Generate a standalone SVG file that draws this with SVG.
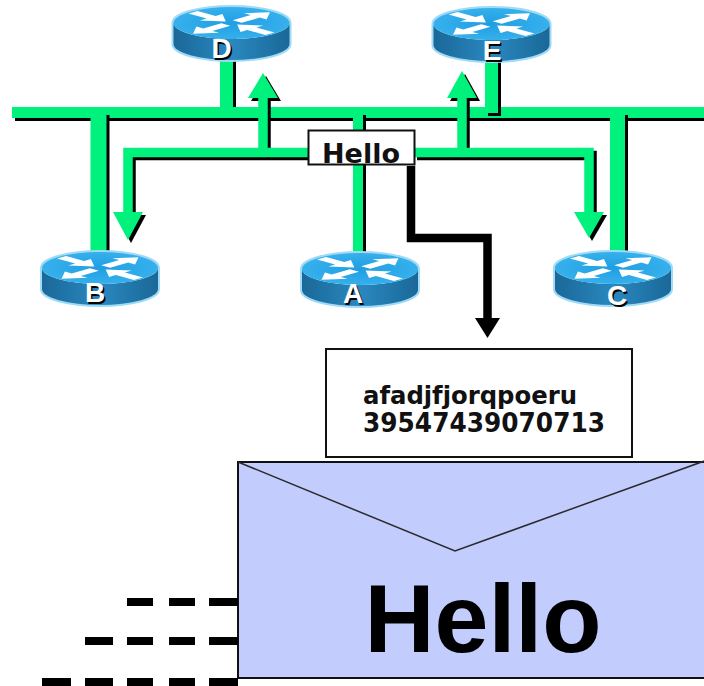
<svg xmlns="http://www.w3.org/2000/svg" xmlns:xlink="http://www.w3.org/1999/xlink" width="704" height="686" viewBox="0 0 704 686">
  <style>
    .sh { color: #000000; }
    .gr { color: #00F27C; }
    .wire { fill: none; stroke: currentColor; }
    .head { fill: currentColor; stroke: none; }
    .rlabel { font-family: "Liberation Sans", Arial, sans-serif; font-weight: bold; font-size: 28px; text-anchor: middle; }
    .rlabel-sh { fill: #000000; }
    .rlabel-fg { fill: #ffffff; }
    .tag { font-family: "DejaVu Sans", Verdana, sans-serif; font-weight: bold; fill: #111111; }
  </style>
  <defs>
    <linearGradient id="sideGrad" x1="0" y1="0" x2="1" y2="0">
      <stop offset="0" stop-color="#1a6898"/>
      <stop offset="0.5" stop-color="#2a88bf"/>
      <stop offset="1" stop-color="#1a6898"/>
    </linearGradient>
    <radialGradient id="topGrad" cx="0.5" cy="0.5" r="0.6">
      <stop offset="0" stop-color="#1f9ee2"/>
      <stop offset="1" stop-color="#3bb4ef"/>
    </radialGradient>
    <!-- arrow pointing away from the centre of the router top -->
    <polygon id="arrOut" points="5,-4 21,-4 21,-10 34,0 21,10 21,4 5,4"/>
    <!-- arrow pointing toward the centre -->
    <polygon id="arrIn" points="34,-4 18,-4 18,-10 5,0 18,10 18,4 34,4"/>
    <!-- router icon: origin at the centre of the top face -->
    <g id="router">
      <path d="M-58 0 A58 16 0 0 1 58 0 V21 A58 16 0 0 1 -58 21 Z" fill="none" stroke="#9fdaf7" stroke-width="4"/>
      <path d="M-58 0 A58 16 0 0 0 58 0 V21 A58 16 0 0 1 -58 21 Z" fill="url(#sideGrad)"/>
      <ellipse cx="0" cy="0" rx="58" ry="16" fill="url(#topGrad)"/>
      <g fill="#ffffff" transform="scale(1.6 0.45)">
        <use xlink:href="#arrIn" href="#arrIn" transform="rotate(-135)"/>
        <use xlink:href="#arrIn" href="#arrIn" transform="rotate(45)"/>
        <use xlink:href="#arrOut" href="#arrOut" transform="rotate(-45)"/>
        <use xlink:href="#arrOut" href="#arrOut" transform="rotate(135)"/>
      </g>
    </g>
    <!-- wires and flows, drawn twice: black offset shadow, then green -->
    <path id="wDropD" class="wire" d="M226.5 30 V112" stroke-width="13"/>
    <path id="wBus" class="wire" d="M12 112.5 H720" stroke-width="11"/>
    <path id="wDropB" class="wire" d="M98.5 112 V256" stroke-width="16"/>
    <path id="wDropA" class="wire" d="M358 112 V258" stroke-width="10"/>
    <path id="wDropC" class="wire" d="M617.5 112 V256" stroke-width="15"/>
    <path id="wDropE" class="wire" d="M491.5 30 V113" stroke-width="13"/>
    <g id="flowLeft">
      <path class="wire" d="M309 152.5 H128 V214" stroke-width="9.5"/>
      <path class="wire" d="M263 152.5 V96" stroke-width="9.5"/>
      <polygon class="head" points="113,212 143,212 128,240"/>
      <polygon class="head" points="248,98 278,98 263,73"/>
    </g>
    <g id="flowRight">
      <path class="wire" d="M414 152.5 H589 V214" stroke-width="9.5"/>
      <path class="wire" d="M462 152.5 V96" stroke-width="9.5"/>
      <polygon class="head" points="574,212 604,212 589,238"/>
      <polygon class="head" points="447,98 477,98 462,71"/>
    </g>
  </defs>

  <rect x="0" y="0" width="704" height="686" fill="#ffffff"/>

  <g id="connectors">
    <use href="#wDropD" class="sh" transform="translate(3 3)"/>
    <use href="#wDropD" class="gr"/>
    <use href="#wBus" class="sh" transform="translate(3 3)"/>
    <use href="#wBus" class="gr"/>
    <use href="#wDropB" class="sh" transform="translate(3 3)"/>
    <use href="#wDropB" class="gr"/>
    <use href="#wDropA" class="sh" transform="translate(3 3)"/>
    <use href="#wDropA" class="gr"/>
    <use href="#wDropC" class="sh" transform="translate(3 3)"/>
    <use href="#wDropC" class="gr"/>
    <use href="#wDropE" class="sh" transform="translate(3 3)"/>
    <use href="#wDropE" class="gr"/>
    <use href="#flowLeft" class="sh" transform="translate(3 3)"/>
    <use href="#flowLeft" class="gr"/>
    <use href="#flowRight" class="sh" transform="translate(3 3)"/>
    <use href="#flowRight" class="gr"/>
    <!-- capture path from the Hello frame down to the packet dump -->
    <path d="M411 166 V238 H487.5 V320" fill="none" stroke="#000000" stroke-width="8.5"/>
    <polygon points="475,318 500,318 487.5,338" fill="#000000"/>
  </g>

  <g id="router-D" transform="translate(231.5 23)">
    <use href="#router"/>
    <text class="rlabel rlabel-sh" x="-8.5" y="36.5">D</text>
    <text class="rlabel rlabel-fg" x="-10" y="35">D</text>
  </g>
  <g id="router-E" transform="translate(491.5 24)">
    <use href="#router"/>
    <text class="rlabel rlabel-sh" x="2" y="37.5">E</text>
    <text class="rlabel rlabel-fg" x="0.5" y="36">E</text>
  </g>
  <g id="router-B" transform="translate(100 268)">
    <use href="#router"/>
    <text class="rlabel rlabel-sh" x="-3.5" y="35.5">B</text>
    <text class="rlabel rlabel-fg" x="-5" y="34">B</text>
  </g>
  <g id="router-A" transform="translate(360 269)">
    <use href="#router"/>
    <text class="rlabel rlabel-sh" x="-5.5" y="35.5">A</text>
    <text class="rlabel rlabel-fg" x="-7" y="34">A</text>
  </g>
  <g id="router-C" transform="translate(613 268)">
    <use href="#router"/>
    <text class="rlabel rlabel-sh" x="5.5" y="38.5">C</text>
    <text class="rlabel rlabel-fg" x="4" y="37">C</text>
  </g>

  <g id="hello-frame">
    <rect x="308.5" y="130.5" width="106" height="34" fill="#ffffff" stroke="#111111" stroke-width="2"/>
    <text class="tag" x="361" y="163" font-size="27" text-anchor="middle">Hello</text>
  </g>

  <g id="packet-dump">
    <rect x="326" y="349" width="306" height="108" fill="#ffffff" stroke="#111111" stroke-width="2"/>
    <text class="tag" x="363" y="404" font-size="25" textLength="214" lengthAdjust="spacingAndGlyphs">afadjfjorqpoeru</text>
    <text class="tag" x="363" y="432" font-size="26" textLength="242" lengthAdjust="spacingAndGlyphs">39547439070713</text>
  </g>

  <g id="envelope">
    <rect x="238" y="462" width="480" height="216" fill="#C2CCFD" stroke="#111111" stroke-width="2"/>
    <polyline points="238,462 455,551 707,460" fill="none" stroke="#2a2a2a" stroke-width="1.5"/>
    <text x="483" y="652" font-family="'Liberation Sans', Arial, sans-serif" font-weight="bold" font-size="97" text-anchor="middle" fill="#000000">Hello</text>
    <!-- motion dashes trailing the envelope -->
    <g fill="#000000">
      <rect x="127" y="598" width="26" height="8"/>
      <rect x="169" y="598" width="26" height="8"/>
      <rect x="209" y="598" width="29" height="8"/>
      <rect x="85" y="637" width="28" height="8"/>
      <rect x="127" y="637" width="26" height="8"/>
      <rect x="169" y="637" width="26" height="8"/>
      <rect x="209" y="637" width="29" height="8"/>
      <rect x="42" y="678" width="29" height="8"/>
      <rect x="85" y="678" width="28" height="8"/>
      <rect x="127" y="678" width="26" height="8"/>
      <rect x="169" y="678" width="26" height="8"/>
      <rect x="209" y="678" width="29" height="8"/>
    </g>
  </g>
</svg>
